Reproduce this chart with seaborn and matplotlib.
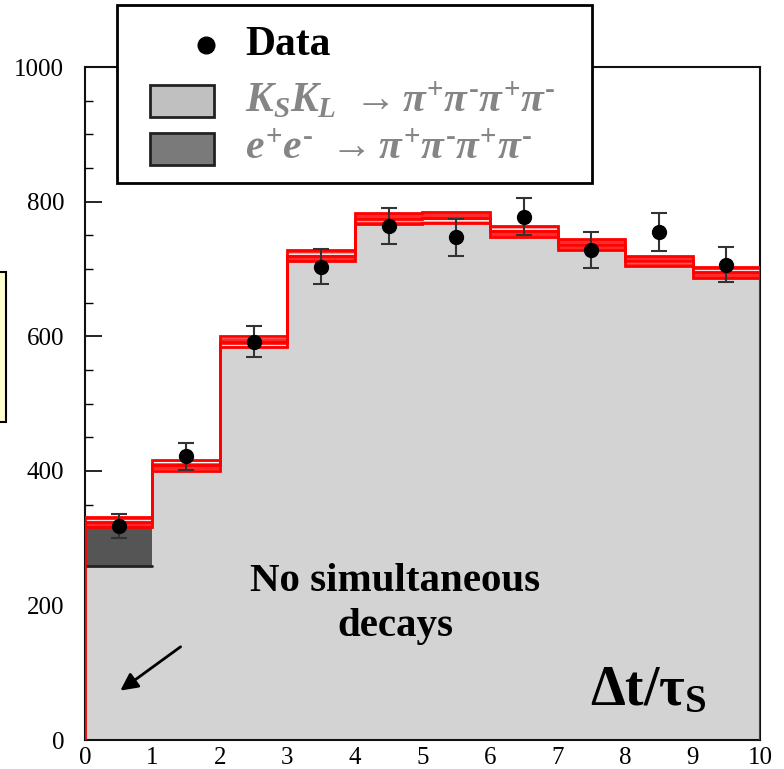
import numpy as np
import pandas as pd
import seaborn as sns
import matplotlib.pyplot as plt
from matplotlib.patches import Rectangle
from matplotlib.lines import Line2D

# data
edges = list(range(0, 11))
centers = [e + 0.5 for e in edges[:-1]]
kskl = np.array([258, 408, 592, 720, 775, 776, 756, 736, 712, 695])
ee = np.array([66, 0, 0, 0, 0, 0, 0, 0, 0, 0])
band = 8  # half width of MC error band
data_y = np.array([318, 422, 592, 703, 764, 747, 778, 728, 755, 706])
data_err = np.array([18, 20, 23, 26, 27, 27, 28, 27, 28, 26])

total = kskl + ee
df = pd.DataFrame({'t': centers, 'kskl': kskl, 'total': total})

sns.set_style('ticks')
plt.rcParams['font.family'] = ['Liberation Serif', 'DejaVu Serif']
plt.rcParams['text.color'] = 'black'
plt.rcParams['xtick.color'] = 'black'
plt.rcParams['ytick.color'] = 'black'
plt.rcParams['mathtext.fontset'] = 'custom'
plt.rcParams['mathtext.rm'] = 'Liberation Serif:bold'
plt.rcParams['mathtext.bf'] = 'Liberation Serif:bold'
plt.rcParams['mathtext.it'] = 'Liberation Serif:bold:italic'
plt.rcParams['hatch.color'] = 'white'
plt.rcParams['hatch.linewidth'] = 1.0

fig = plt.figure(figsize=(7.84, 7.69), dpi=100)
ax = fig.add_axes([0.1084, 0.0377, 0.861, 0.875])

# stacked histogram: dark (e+e-) on top of light (KsKl)
sns.histplot(data=df, x='t', weights='total', bins=edges, element='step',
             fill=True, color='#555555', alpha=1, linewidth=0, ax=ax)
sns.histplot(data=df, x='t', weights='kskl', bins=edges, element='step',
             fill=True, color='#d3d3d3', alpha=1, linewidth=0, ax=ax)
ax.plot([edges[0], edges[1]], [kskl[0], kskl[0]], color='#222222', lw=2)

# MC error band
ax.stairs(total + band, edges, baseline=total - band, fill=True,
          facecolor='#ff2a2a', edgecolor='none', zorder=3)
ax.stairs(total + band, edges, baseline=total - band, fill=True,
          facecolor='none', edgecolor='white', hatch='--', linewidth=0, zorder=3)
ax.stairs(total, edges, baseline=None, color='black', ls='--', lw=0.8, zorder=3)
ax.stairs(total + band, edges, baseline=total - band, fill=False,
          color='red', lw=2, zorder=4)
ax.stairs(total, edges, baseline=0, fill=False, color='red', lw=2, zorder=4)

# data points
ax.errorbar(centers, data_y, yerr=data_err, fmt='o', color='black', ms=10,
            ecolor='#333333', elinewidth=1.5, capsize=6, capthick=1.5, zorder=5)

ax.set_xlim(0, 10)
ax.set_ylim(0, 1000)
ax.set_xticks(range(0, 11))
ax.set_xticks(np.arange(0, 10.01, 0.2), minor=True)
ax.set_yticks(range(0, 1001, 200))
ax.set_yticks(range(0, 1001, 50), minor=True)
ax.set_xlabel('')
ax.set_ylabel('')
ax.tick_params(axis='both', which='major', direction='in', length=12, width=1.2,
               labelsize=18, top=False, right=False)
ax.tick_params(axis='both', which='minor', direction='in', length=6, width=1.0,
               top=False, right=False)
ax.tick_params(axis='y', which='major', pad=15)
ax.tick_params(axis='x', which='major', pad=5)
for s in ax.spines.values():
    s.set_visible(True)
    s.set_linewidth(1.5)
    s.set_color('#111111')

ax.text(4.6, 202, 'No simultaneous\ndecays', ha='center', va='center',
        fontsize=29.5, fontweight='bold', linespacing=1.3, zorder=6)
ax.annotate('', xy=(0.49, 71), xytext=(1.45, 141),
            arrowprops=dict(arrowstyle='-|>', lw=2, color='black', mutation_scale=26),
            zorder=6)
ax.text(7.48, 52, r'$\mathbf{\Delta t/\tau_S}$', ha='left', va='baseline',
        fontsize=40, zorder=6)

# legend box drawn on the figure
fig.patches.append(Rectangle((0.149, 0.762), 0.606, 0.2315, transform=fig.transFigure,
                             facecolor='white', edgecolor='black', lw=2, zorder=5))
fig.lines.append(Line2D([0.2628], [0.9415], transform=fig.transFigure, marker='o',
                        ms=12, color='black', ls='none', zorder=6))
fig.text(0.3125, 0.9415, 'Data', fontsize=30, fontweight='bold', va='center', zorder=6)
fig.patches.append(Rectangle((0.1913, 0.8479), 0.0816, 0.0416, transform=fig.transFigure,
                             facecolor='#c0c0c0', edgecolor='#222222', lw=2, zorder=6))
fig.patches.append(Rectangle((0.1913, 0.7854), 0.0816, 0.0416, transform=fig.transFigure,
                             facecolor='#7a7a7a', edgecolor='#222222', lw=2, zorder=6))
fig.text(0.3125, 0.8687,
         r'$K_SK_L\ {\rightarrow}\pi^{+}\pi^{\text{-}}\pi^{+}\pi^{\text{-}}$',
         fontsize=30, color='#858585', va='center', zorder=6)
fig.text(0.3125, 0.8062,
         r'$e^{+}e^{\text{-}}\ {\rightarrow}\pi^{+}\pi^{\text{-}}\pi^{+}\pi^{\text{-}}$',
         fontsize=30, color='#858585', va='center', zorder=6)

# yellow box clipped at the left edge
fig.patches.append(Rectangle((-0.01, 0.4512), 0.0177, 0.1951, transform=fig.transFigure,
                             facecolor='#ffffd0', edgecolor='black', lw=1.5, zorder=5))

fig.savefig('out.png', dpi=100)
